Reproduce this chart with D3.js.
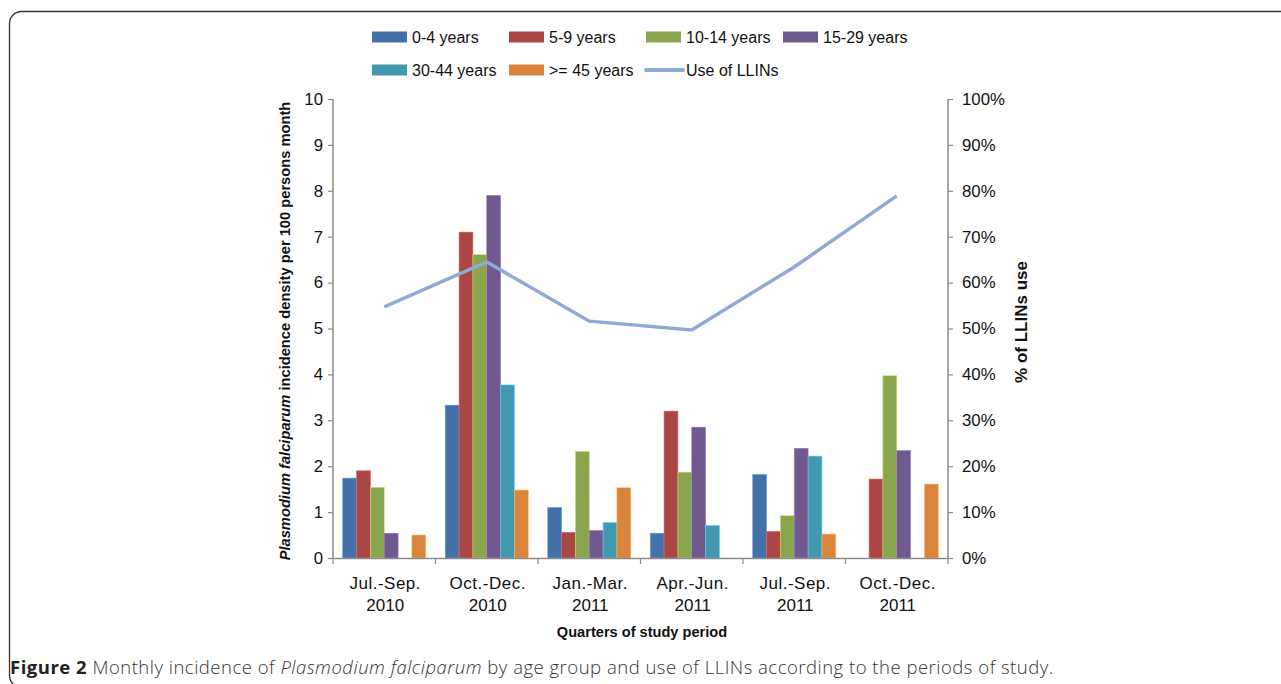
<!DOCTYPE html>
<html><head><meta charset="utf-8">
<script src="https://cdn.jsdelivr.net/npm/d3@7"></script>
<style>
body{margin:0;background:#fff;}
svg{display:block;font-family:"Liberation Sans",Arial,Helvetica,sans-serif;}
</style></head>
<body><svg id="c" width="1281" height="684"></svg>
<script>
const categories = [["Jul.-Sep.","2010"],["Oct.-Dec.","2010"],["Jan.-Mar.","2011"],["Apr.-Jun.","2011"],["Jul.-Sep.","2011"],["Oct.-Dec.","2011"]];
const seriesNames = ["0-4 years","5-9 years","10-14 years","15-29 years","30-44 years",">= 45 years"];
const seriesColors = ["#4472a8","#aa4644","#89a54e","#71588f","#4198af","#db843d"];
const age0_4   = [1.74, 3.33, 1.10, 0.54, 1.82, 0];
const age5_9   = [1.90, 7.10, 0.56, 3.20, 0.58, 1.72];
const age10_14 = [1.54, 6.61, 2.32, 1.87, 0.92, 3.97];
const age15_29 = [0.54, 7.90, 0.60, 2.85, 2.39, 2.34];
const age30_44 = [0,    3.77, 0.77, 0.71, 2.22, 0];
const age45    = [0.50, 1.48, 1.53, 0,    0.52, 1.61];
const llinUse  = [54.7, 64.5, 51.6, 49.7, 63.4, 78.9];
const leftTicks = [0,1,2,3,4,5,6,7,8,9,10];
const rightTicks = [0,10,20,30,40,50,60,70,80,90,100];
const lineColor = "#8eaad5";

const series = [age0_4, age5_9, age10_14, age15_29, age30_44, age45];
const svg = d3.select("#c");

// border
svg.append("rect").attr("x",9.5).attr("y",11.5).attr("width",1300).attr("height",676)
  .attr("rx",12).attr("fill","none").attr("stroke","#333").attr("stroke-width",1.3);

const L=333, R=948, T=99, B=558;
const catKeys = categories.map((d,i)=>i);
const x0 = d3.scaleBand().domain(catKeys).range([L,R]).padding(0);
const bw = x0.bandwidth();
const x1 = d3.scaleBand().domain(d3.range(seriesNames.length)).range([bw*0.095, bw*0.905]).padding(0);
const y = d3.scaleLinear().domain([0,10]).range([B,T]);
const y2 = d3.scaleLinear().domain([0,100]).range([B,T]);

// bars
series.forEach((vals,si)=>{
  svg.append("g").selectAll("rect").data(vals).join("rect")
    .attr("x",(d,i)=>x0(i)+x1(si))
    .attr("width",x1.bandwidth())
    .attr("y",d=>y(d))
    .attr("height",d=>B-y(d))
    .attr("fill",seriesColors[si])
    .attr("stroke",d=>d>0?d3.color(seriesColors[si]).brighter(0.9):"none")
    .attr("stroke-width",0.6)
    .attr("opacity",d=>d>0?1:0);
});

// axes
const axisColor="#8a8a8a";
const gl = svg.append("g").attr("transform",`translate(${L},0)`)
  .call(d3.axisLeft(y).tickValues(leftTicks).tickSize(5).tickPadding(5).tickFormat(d3.format("d")));
const gr = svg.append("g").attr("transform",`translate(${R},0)`)
  .call(d3.axisRight(y2).tickValues(rightTicks).tickSize(5).tickPadding(9).tickFormat(d=>d+"%"));
const gx = svg.append("g").attr("transform",`translate(0,${B})`)
  .call(d3.axisBottom(x0).tickSize(0).tickFormat(""));
[gl,gr,gx].forEach(g=>{
  g.select(".domain").attr("stroke",axisColor).attr("stroke-width",1.5);
  g.selectAll(".tick line").attr("stroke",axisColor).attr("stroke-width",1.2);
  g.selectAll("text").attr("font-size",16.8).attr("fill","#111").attr("font-family","Liberation Sans, Arial, sans-serif");
});
gl.select(".domain").attr("d",`M-0,${T}H0V${B}H0`);
gr.select(".domain").attr("d",`M0,${T}H0V${B}H0`);
// x boundary ticks
svg.append("g").selectAll("line").data(d3.range(categories.length+1)).join("line")
  .attr("x1",i=>L+i*bw).attr("x2",i=>L+i*bw).attr("y1",B).attr("y2",B+6)
  .attr("stroke",axisColor).attr("stroke-width",1.2);
// x labels
const xl = svg.append("g").selectAll("text").data(categories).join("text")
  .attr("text-anchor","middle").attr("font-size",17).attr("fill","#111");
xl.append("tspan").attr("x",(d,i)=>x0(i)+bw/2+1).attr("y",589).attr("letter-spacing",0.5).text(d=>d[0]);
xl.append("tspan").attr("x",(d,i)=>x0(i)+bw/2+1).attr("y",611).text(d=>d[1]);

// line
const line = d3.line().x((d,i)=>x0(i)+bw/2).y(d=>y2(d));
svg.append("path").datum(llinUse).attr("d",line).attr("fill","none")
  .attr("stroke",lineColor).attr("stroke-width",3.5).attr("stroke-linejoin","miter");

// axis titles
svg.append("text").attr("transform",`translate(290,331) rotate(-90)`)
  .attr("text-anchor","middle").attr("font-size",14.7).attr("font-weight","bold").attr("fill","#111")
  .call(t=>{t.append("tspan").attr("font-style","italic").text("Plasmodium falciparum");
            t.append("tspan").text(" incidence density per 100 persons month");});
svg.append("text").attr("transform",`translate(1027,322) rotate(-90)`)
  .attr("text-anchor","middle").attr("font-size",17).attr("font-weight","bold").attr("fill","#111")
  .text("% of LLINs use");
svg.append("text").attr("x",642).attr("y",637).attr("text-anchor","middle")
  .attr("font-size",14.6).attr("font-weight","bold").attr("fill","#111").text("Quarters of study period");

// legend
const legendItems = seriesNames.map((n,i)=>({name:n,color:seriesColors[i],type:"rect"}))
  .concat([{name:"Use of LLINs",color:lineColor,type:"line"}]);
const legendPos = [[372,37],[509,37],[646,37],[783,37],[372,70],[509,70],[645,70]];
const lg = svg.append("g").selectAll("g").data(legendItems).join("g")
  .attr("transform",(d,i)=>`translate(${legendPos[i][0]},${legendPos[i][1]})`);
lg.filter(d=>d.type==="rect").append("rect").attr("x",0).attr("y",-5.5).attr("width",35).attr("height",11)
  .attr("fill",d=>d.color);
lg.filter(d=>d.type==="line").append("line").attr("x1",1).attr("x2",38).attr("y1",0).attr("y2",0)
  .attr("stroke",d=>d.color).attr("stroke-width",4).attr("stroke-linecap","round");
lg.append("text").attr("x",d=>d.type==="line"?41:40).attr("y",6).attr("font-size",16).attr("fill","#111")
  .text(d=>d.name);

// caption
svg.append("text").attr("x",10).attr("y",674).attr("font-family","'Open Sans', 'Noto Sans', sans-serif")
  .attr("font-size",18.5).attr("letter-spacing",0.5).attr("fill","#333")
  .call(t=>{
    t.append("tspan").attr("font-weight","bold").attr("fill","#222").text("Figure 2");
    t.append("tspan").attr("font-weight","300").text(" Monthly incidence of ");
    t.append("tspan").attr("font-weight","300").attr("font-style","italic").text("Plasmodium falciparum");
    t.append("tspan").attr("font-weight","300").text(" by age group and use of LLINs according to the periods of study.");
  });
</script></body></html>
